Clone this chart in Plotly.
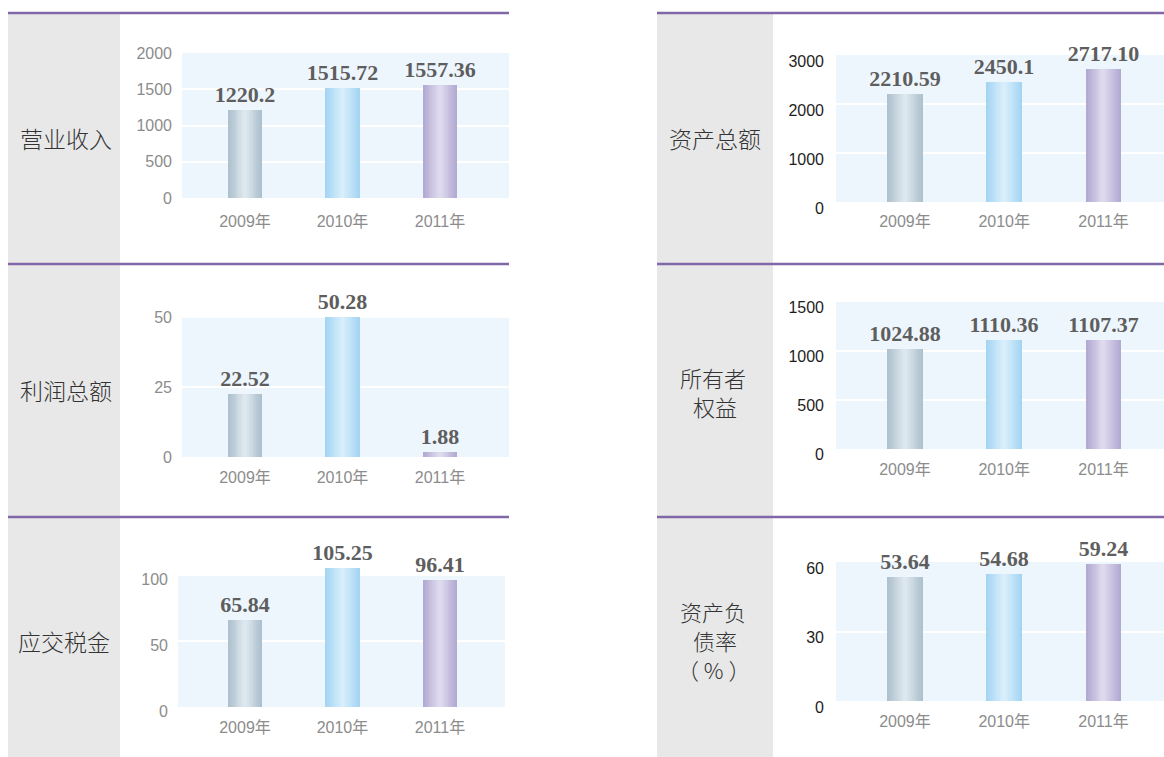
import plotly.graph_objects as go

# ---------------- data ----------------
years = ["2009年", "2010年", "2011年"]

revenue = [1220.2, 1515.72, 1557.36]
revenue_text = ["1220.2", "1515.72", "1557.36"]
profit = [22.52, 50.28, 1.88]
profit_text = ["22.52", "50.28", "1.88"]
tax = [65.84, 105.25, 96.41]
tax_text = ["65.84", "105.25", "96.41"]
assets = [2210.59, 2450.1, 2717.10]
assets_text = ["2210.59", "2450.1", "2717.10"]
equity = [1024.88, 1110.36, 1107.37]
equity_text = ["1024.88", "1110.36", "1107.37"]
debt_ratio = [53.64, 54.68, 59.24]
debt_ratio_text = ["53.64", "54.68", "59.24"]

titles = [["营业收入"], ["利润总额"], ["应交税金"],
          ["资产总额"], ["所有者", "权益"], ["资产负", "债率", "（ % ）"]]

# ---------------- styling ----------------
W, H = 1164, 757
def fx(px): return px / W
def fy(py): return 1 - py / H

edge_cols = [(0xad, 0xc1, 0xce), (0xa5, 0xd5, 0xf3), (0xb3, 0xaa, 0xd2)]
center_cols = [(0xdd, 0xe7, 0xee), (0xd8, 0xee, 0xfb), (0xde, 0xda, 0xee)]
BG = "#eef6fd"
PURPLE = "#8068a8"
GREY = "#e8e8e8"
SANS = "Liberation Sans, Arial, Noto Sans CJK SC, sans-serif"
CJK = "Noto Sans CJK SC, sans-serif"
SERIF = "Liberation Serif, Times New Roman, serif"

panels = [
    dict(vals=revenue, txt=revenue_text, xd=(182, 509), yd=(53, 198), yr=(0, 2000), bgtop=2000,
         dtick=500, xr=(-0.646, 2.708), bw=0.35, tc="#8c8c8c", shift=0, stand=9, xst=12),
    dict(vals=profit, txt=profit_text, xd=(182, 509), yd=(317, 457), yr=(0, 50.3), bgtop=50,
         dtick=25, xr=(-0.646, 2.708), bw=0.35, tc="#8c8c8c", shift=0, stand=9, xst=9),
    dict(vals=tax, txt=tax_text, xd=(178, 505), yd=(567, 707), yr=(0, 106), bgtop=100,
         dtick=50, xr=(-0.687, 2.667), bw=0.35, tc="#8c8c8c", shift=4, stand=9, xst=9),
    dict(vals=assets, txt=assets_text, xd=(836, 1164), yd=(55, 202), yr=(0, 3000), bgtop=3000,
         dtick=1000, xr=(-0.695, 2.61), bw=0.36, tc="#1e1e1e", shift=6, stand=11, xst=8),
    dict(vals=equity, txt=equity_text, xd=(836, 1164), yd=(302, 449), yr=(0, 1500), bgtop=1500,
         dtick=500, xr=(-0.695, 2.61), bw=0.36, tc="#1e1e1e", shift=5, stand=11, xst=9),
    dict(vals=debt_ratio, txt=debt_ratio_text, xd=(836, 1164), yd=(562, 701), yr=(0, 60), bgtop=60,
         dtick=30, xr=(-0.695, 2.61), bw=0.36, tc="#1e1e1e", shift=6, stand=11, xst=9),
]

def lerp(a, b, t):
    return "rgb(%d,%d,%d)" % tuple(round(a[j] + (b[j] - a[j]) * t) for j in range(3))

fig = go.Figure()
layout_axes = {}
shapes = []
N = 9

for i, p in enumerate(panels, start=1):
    sfx = "" if i == 1 else str(i)
    xa, ya = "x" + sfx, "y" + sfx
    for k in range(N):
        t = k / (N - 1)
        width = p["bw"] * (1 - k / N)
        fig.add_trace(go.Bar(
            x=years, y=p["vals"], xaxis=xa, yaxis=ya,
            width=[width] * 3,
            marker=dict(color=[lerp(edge_cols[j], center_cols[j], t) for j in range(3)],
                        line=dict(width=0)),
            text=p["txt"] if k == 0 else None,
            textposition="outside" if k == 0 else "none",
            cliponaxis=False, constraintext="none",
            textfont=dict(family=SERIF, size=22, color="#5e5e5e", weight="bold"),
            hoverinfo="skip", showlegend=False,
        ))
    layout_axes["xaxis" + sfx] = dict(
        domain=[fx(p["xd"][0]), fx(p["xd"][1])], anchor=ya, range=list(p["xr"]),
        showgrid=False, zeroline=False, showline=False, ticks="", automargin=False,
        tickfont=dict(family=SANS, size=16, color="#8c8c8c"), ticklabelstandoff=p["xst"],
        fixedrange=True,
    )
    layout_axes["yaxis" + sfx] = dict(
        domain=[fy(p["yd"][1]), fy(p["yd"][0])], anchor=xa, range=list(p["yr"]),
        tickmode="linear", tick0=0, dtick=p["dtick"], automargin=False,
        showgrid=True, gridcolor="white", gridwidth=1.5,
        zeroline=False, showline=False, ticks="",
        tickfont=dict(family=SANS, size=16, color=p["tc"]),
        ticklabelstandoff=p["stand"], ticklabelshift=p["shift"],
        fixedrange=True,
    )
    shapes.append(dict(type="rect", xref=xa + " domain", yref=ya, x0=0, x1=1,
                       y0=0, y1=p["bgtop"], fillcolor=BG, line=dict(width=0), layer="below"))

# grey title columns
for x0, x1 in [(8, 120), (657, 773)]:
    shapes.append(dict(type="rect", xref="paper", yref="paper", x0=fx(x0), x1=fx(x1),
                       y0=0, y1=fy(14), fillcolor=GREY, line=dict(width=0), layer="below"))
# purple separators
for x0, x1 in [(8, 509), (657, 1164)]:
    for yy in [13, 264, 517]:
        shapes.append(dict(type="line", xref="paper", yref="paper", x0=fx(x0), x1=fx(x1),
                           y0=fy(yy), y1=fy(yy), line=dict(color=PURPLE, width=2.5)))

# title annotations (one per line)
title_pos = [
    [(66, 138)], [(66, 390)], [(64, 641)],
    [(715, 138)], [(713, 377), (715, 406)], [(713, 611), (715, 640), (713, 669)],
]
annotations = []
for lines, poss in zip(titles, title_pos):
    size = 23 if len(lines) == 1 else 22
    for line, (px, py) in zip(lines, poss):
        annotations.append(dict(
            text=line, xref="paper", yref="paper", x=fx(px), y=fy(py),
            xanchor="center", yanchor="middle", showarrow=False,
            font=dict(family=CJK, size=size, color="#333333", weight=300),
        ))

fig.update_layout(
    width=W, height=H, autosize=False,
    margin=dict(l=0, r=0, t=0, b=0, pad=0),
    paper_bgcolor="white", plot_bgcolor="rgba(0,0,0,0)",
    barmode="overlay", bargap=0,
    shapes=shapes, annotations=annotations,
    showlegend=False,
    **layout_axes,
)

fig.write_html("out.html", config={"displayModeBar": False},
               post_script="document.body.style.margin='0';")
